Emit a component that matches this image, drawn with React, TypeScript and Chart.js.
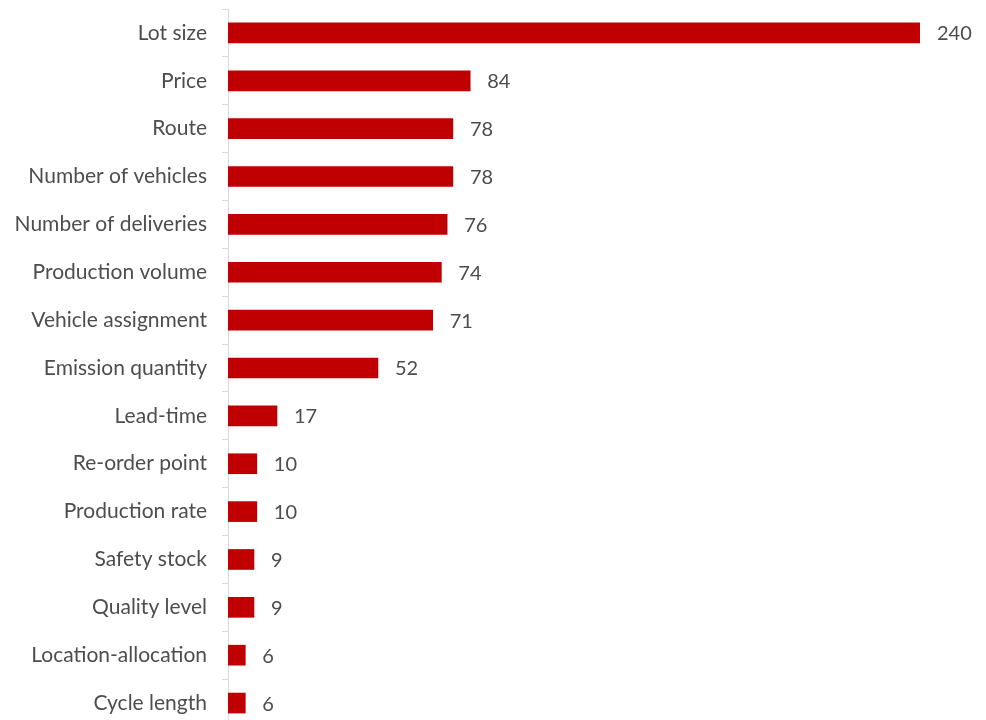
import React, { useEffect, useRef } from "react";
import { Chart, registerables } from "chart.js";

Chart.register(...registerables);

const categories = [
  "Lot size",
  "Price",
  "Route",
  "Number of vehicles",
  "Number of deliveries",
  "Production volume",
  "Vehicle assignment",
  "Emission quantity",
  "Lead-time",
  "Re-order point",
  "Production rate",
  "Safety stock",
  "Quality level",
  "Location-allocation",
  "Cycle length",
];

const counts = [240, 84, 78, 78, 76, 74, 71, 52, 17, 10, 10, 9, 9, 6, 6];

const FONT = "Lato, 'Open Sans', sans-serif";
const TEXT_COLOR = "#4d4d4d";

const valueLabels = {
  id: "valueLabels",
  afterDatasetsDraw(chart: any) {
    const ctx = chart.ctx;
    const meta = chart.getDatasetMeta(0);
    ctx.save();
    ctx.font = `20px ${FONT}`;
    ctx.fillStyle = TEXT_COLOR;
    ctx.textAlign = "left";
    ctx.textBaseline = "middle";
    meta.data.forEach((bar: any, i: number) => {
      ctx.fillText(String(chart.data.datasets[0].data[i]), bar.x + 17, bar.y + 1);
    });
    ctx.restore();
  },
};

export default function App() {
  const canvasRef = useRef<HTMLCanvasElement | null>(null);

  useEffect(() => {
    if (!canvasRef.current) return;
    const chart = new Chart(canvasRef.current, {
      type: "bar",
      data: {
        labels: categories,
        datasets: [
          {
            data: counts,
            backgroundColor: "#C00000",
            borderWidth: 0,
            barThickness: 20,
          },
        ],
      },
      options: {
        indexAxis: "y",
        animation: false,
        responsive: false,
        maintainAspectRatio: false,
        layout: { padding: { top: 9, right: 66, bottom: 0, left: 0 } },
        plugins: {
          legend: { display: false },
          tooltip: { enabled: false },
        },
        scales: {
          x: {
            display: false,
            min: 0,
            max: 240,
          },
          y: {
            afterFit(scale: any) {
              scale.width = 228;
              scale.paddingTop = 0;
              scale.paddingBottom = 0;
            },
            border: { display: true, color: "#d9d9d9", width: 1 },
            grid: {
              offset: true,
              drawOnChartArea: false,
              drawTicks: true,
              tickLength: 6,
              color: "#d9d9d9",
            },
            ticks: {
              padding: 15,
              color: TEXT_COLOR,
              font: { family: FONT, size: 21 },
              autoSkip: false,
            },
          },
        },
      },
      plugins: [valueLabels],
    });
    return () => chart.destroy();
  }, []);

  return (
    <div style={{ position: "absolute", left: 0, top: 0, width: 986, height: 727, background: "#fff" }}>
      <canvas ref={canvasRef} width={986} height={727} style={{ display: "block" }} />
    </div>
  );
}
